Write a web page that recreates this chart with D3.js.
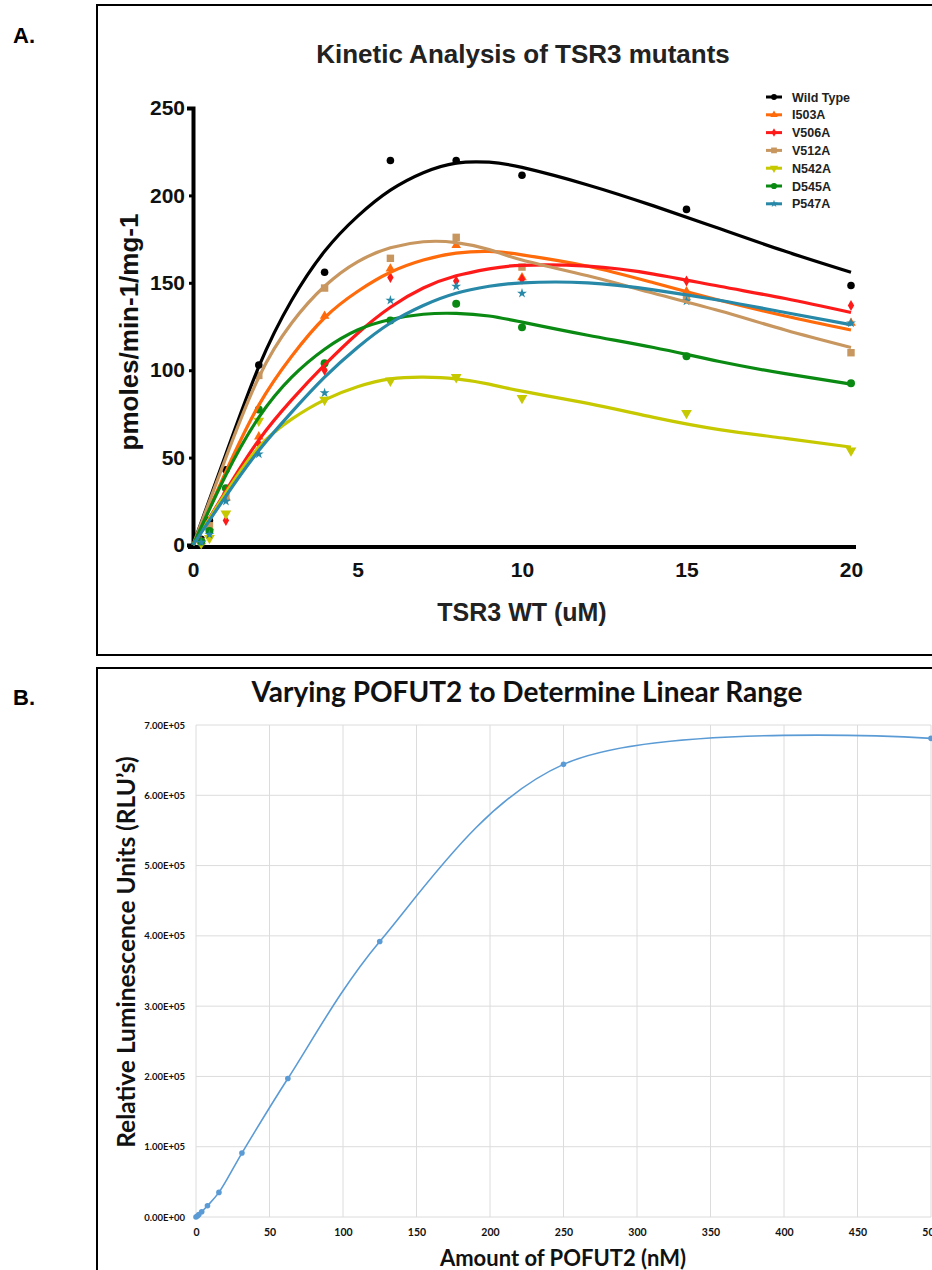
<!DOCTYPE html>
<html>
<head>
<meta charset="utf-8">
<script src="https://cdn.jsdelivr.net/npm/d3@7"></script>
<style>
  html, body { margin: 0; padding: 0; background: #fff; }
  svg { display: block; }
</style>
</head>
<body>
<svg id="chart" width="932" height="1270"></svg>
<script>
// ---------------- Panel A data ----------------
const kinX = [0.25, 0.5, 1, 2, 4, 6, 8, 10, 15, 20];
const seriesNames = ["Wild Type", "I503A", "V506A", "V512A", "N542A", "D545A", "P547A"];
const wildType = [3.3, 14, 43, 103, 156, 220, 220, 211.5, 192, 148.5];
const i503a    = [2, 10, 27, 62, 131, 158, 171.5, 153, 145, 127];
const v506a    = [1.5, 5, 14, 58, 100, 153, 151, 152, 151, 137];
const v512a    = [2, 11, 28, 97, 147, 164, 176, 159, 142, 110];
const n542a    = [1, 4, 18, 71, 83, 94, 96, 84, 75.5, 54];
const d545a    = [2, 8, 32.5, 77.5, 104, 128.5, 138, 124.5, 108, 92.5];
const p547a    = [1.5, 6, 25, 52, 87, 140, 148, 144, 139.5, 127];

// fitted curves
const fitX        = [0, 1, 2, 3, 4, 5, 6, 7, 8, 9, 10, 12, 14, 16, 18, 20];
const fitWildType = [0, 52, 102, 140, 168, 188, 203, 213, 218.5, 219, 216, 206, 194, 181, 168, 156];
const fitI503A    = [0, 42, 80, 108, 130, 145, 156, 163, 167, 168, 166, 159.5, 150, 140, 131, 123];
const fitV506A    = [0, 31, 60, 83, 103, 121, 136, 147, 154, 158, 160, 159.5, 155, 148, 141, 133];
const fitV512A    = [0, 50, 96, 127, 148, 162, 170, 173.5, 173, 169, 163, 154, 144, 134, 123, 113];
const fitN542A    = [0, 30, 56, 72, 83, 90.5, 95, 96, 95, 92, 88, 81, 73, 66, 61, 56];
const fitD545A    = [0, 40, 73, 96, 112, 123, 129, 132, 132.5, 131, 127.5, 120, 113, 105, 98, 92];
const fitP547A    = [0, 28, 54, 76, 96, 113, 127, 137, 144, 148, 150, 150, 146, 140, 133, 126];

const kinTicksX = [0, 5, 10, 15, 20];
const kinTicksY = [0, 50, 100, 150, 200, 250];

// ---------------- Panel B data ----------------
const pofX = [0, 0.98, 1.95, 3.9, 7.8, 15.6, 31.25, 62.5, 125, 250, 500];
const pofY = [0, 1500, 3500, 7500, 16000, 35000, 91000, 197000, 392000, 644000, 681000];
const pofTicksX = [0, 50, 100, 150, 200, 250, 300, 350, 400, 450, 500];
const pofTicksY = [0, 100000, 200000, 300000, 400000, 500000, 600000, 700000];

// ---------------- styles ----------------
const colors = ["#000000", "#ff6a0a", "#ff1a1a", "#c8965f", "#c6c800", "#0a8a12", "#2788a8"];
const symbols = [d3.symbolCircle, d3.symbolTriangle, d3.symbolDiamond, d3.symbolSquare, d3.symbolTriangle, d3.symbolCircle, d3.symbolStar];
const symRot = [0, 0, 0, 0, 180, 0, 0];
const symSize = [45, 40, 35, 55, 50, 50, 30];
const pointSets = [wildType, i503a, v506a, v512a, n542a, d545a, p547a];
const fitSets = [fitWildType, fitI503A, fitV506A, fitV512A, fitN542A, fitD545A, fitP547A];

const svg = d3.select("#chart");
svg.append("rect").attr("width", 932).attr("height", 1270).attr("fill", "#fff");

const arial = "'Liberation Sans', Arial, sans-serif";
const cal = "Lato, 'Open Sans', sans-serif";

// ===== Panel A =====
svg.append("text").attr("x", 13).attr("y", 43).text("A.")
  .attr("font-family", arial).attr("font-weight", "bold").attr("font-size", 22);
svg.append("rect").attr("x", 97).attr("y", 5).attr("width", 840).attr("height", 650)
  .attr("fill", "none").attr("stroke", "#000").attr("stroke-width", 2);

const xA = d3.scaleLinear().domain([0, 20]).range([193, 851]);
const yA = d3.scaleLinear().domain([0, 250]).range([545, 108]);

svg.append("text").attr("x", 523).attr("y", 63).attr("text-anchor", "middle")
  .attr("font-family", arial).attr("font-weight", "bold").attr("font-size", 26)
  .attr("fill", "#222").text("Kinetic Analysis of TSR3 mutants");

const gyA = svg.append("g").attr("transform", "translate(193,0)")
  .call(d3.axisLeft(yA).tickValues(kinTicksY).tickSizeOuter(0).tickSize(4).tickPadding(4));
gyA.select(".domain").attr("stroke", "#000").attr("stroke-width", 4).attr("stroke-linecap", "square");
gyA.selectAll(".tick line").attr("stroke", "#000").attr("stroke-width", 3);
gyA.selectAll("text").attr("font-family", arial).attr("font-weight", "bold").attr("font-size", 21).attr("fill", "#111");

const gxA = svg.append("g").attr("transform", "translate(0,547)")
  .call(d3.axisBottom(xA).tickValues(kinTicksX).tickSizeOuter(0).tickSize(0).tickPadding(15));
gxA.select(".domain").attr("stroke", "#000").attr("stroke-width", 4).attr("stroke-linecap", "square")
  .attr("d", `M${xA(0) - 3},0H${xA(20) + 3}`);
gxA.selectAll("text").attr("font-family", arial).attr("font-weight", "bold").attr("font-size", 21).attr("fill", "#111");

svg.append("text").attr("x", 522).attr("y", 621).attr("text-anchor", "middle")
  .attr("font-family", arial).attr("font-weight", "bold").attr("font-size", 25)
  .attr("fill", "#222").text("TSR3 WT (uM)");
svg.append("text").attr("transform", "translate(138,332) rotate(-90)").attr("text-anchor", "middle")
  .attr("font-family", arial).attr("font-weight", "bold").attr("font-size", 26)
  .attr("fill", "#111").text("pmoles/min-1/mg-1");

const lineA = d3.line().curve(d3.curveNatural)
  .x(d => xA(d[0])).y(d => yA(d[1]));

const plotA = svg.append("g");
// points first
seriesNames.forEach((name, i) => {
  const sym = d3.symbol().type(symbols[i]).size(symSize[i]);
  plotA.append("g").selectAll("path").data(kinX.map((x, j) => [x, pointSets[i][j]]))
    .join("path")
    .attr("d", sym)
    .attr("transform", d => `translate(${xA(d[0])},${yA(d[1])}) rotate(${symRot[i]})`)
    .attr("fill", colors[i]);
});
// fitted lines
seriesNames.forEach((name, i) => {
  plotA.append("path").datum(fitX.map((x, j) => [x, fitSets[i][j]]))
    .attr("d", lineA).attr("fill", "none").attr("stroke", colors[i])
    .attr("stroke-width", 3.2).attr("stroke-linejoin", "round");
});

// legend
const legA = svg.append("g");
seriesNames.forEach((name, i) => {
  const yy = 97 + i * 17.8;
  legA.append("line").attr("x1", 766).attr("x2", 782).attr("y1", yy).attr("y2", yy)
    .attr("stroke", colors[i]).attr("stroke-width", 3);
  legA.append("path").attr("d", d3.symbol().type(symbols[i]).size(symSize[i] * 0.6))
    .attr("transform", `translate(774,${yy}) rotate(${symRot[i]})`).attr("fill", colors[i]);
  legA.append("text").attr("x", 792).attr("y", yy + 4.5).text(name)
    .attr("font-family", arial).attr("font-weight", "bold").attr("font-size", 12.5).attr("fill", "#222");
});

// ===== Panel B =====
svg.append("text").attr("x", 13).attr("y", 705).text("B.")
  .attr("font-family", arial).attr("font-weight", "bold").attr("font-size", 22);
svg.append("rect").attr("x", 97).attr("y", 668).attr("width", 840).attr("height", 610)
  .attr("fill", "none").attr("stroke", "#000").attr("stroke-width", 2);

const xB = d3.scaleLinear().domain([0, 500]).range([196, 931]);
const yB = d3.scaleLinear().domain([0, 700000]).range([1217, 725]);

const grid = svg.append("g");
grid.selectAll("line.v").data(pofTicksX).join("line").attr("class", "v")
  .attr("x1", d => xB(d)).attr("x2", d => xB(d)).attr("y1", yB(700000)).attr("y2", yB(0))
  .attr("stroke", "#dcdcdc").attr("stroke-width", 1);
grid.selectAll("line.h").data(pofTicksY).join("line").attr("class", "h")
  .attr("x1", xB(0)).attr("x2", xB(500)).attr("y1", d => yB(d)).attr("y2", d => yB(d))
  .attr("stroke", "#dcdcdc").attr("stroke-width", 1);

const gyB = svg.append("g").attr("transform", `translate(${xB(0)},0)`)
  .call(d3.axisLeft(yB).tickValues(pofTicksY).tickSize(0).tickPadding(11)
    .tickFormat(d => d === 0 ? "0.00E+00" : (d / 100000).toFixed(2) + "E+05"));
gyB.select(".domain").remove();
gyB.selectAll("text").attr("font-family", cal).attr("font-weight", "bold").attr("font-size", 9.5).attr("fill", "#111");

const gxB = svg.append("g").attr("transform", `translate(0,${yB(0)})`)
  .call(d3.axisBottom(xB).tickValues(pofTicksX).tickSize(0).tickPadding(12));
gxB.select(".domain").remove();
gxB.selectAll("text").attr("font-family", cal).attr("font-weight", "bold").attr("font-size", 10.5).attr("fill", "#111");

svg.append("text").attr("x", 527).attr("y", 702).attr("text-anchor", "middle")
  .attr("font-family", cal).attr("font-weight", "bold").attr("font-size", 28)
  .attr("fill", "#111").text("Varying POFUT2 to Determine Linear Range");
svg.append("text").attr("x", 563).attr("y", 1266).attr("text-anchor", "middle")
  .attr("font-family", cal).attr("font-weight", "bold").attr("font-size", 22)
  .attr("fill", "#111").text("Amount of POFUT2 (nM)");
svg.append("text").attr("transform", "translate(135,952) rotate(-90)").attr("text-anchor", "middle")
  .attr("font-family", cal).attr("font-weight", "bold").attr("font-size", 24.5)
  .attr("fill", "#111").text("Relative Luminescence Units (RLU\u2019s)");

const lineB = d3.line().curve(d3.curveCatmullRom.alpha(0.5))
  .x(d => xB(d[0])).y(d => yB(d[1]));
const dataB = pofX.map((x, i) => [x, pofY[i]]);
svg.append("path").datum(dataB).attr("d", lineB).attr("fill", "none")
  .attr("stroke", "#5b9bd5").attr("stroke-width", 1.6);
svg.append("g").selectAll("circle").data(dataB).join("circle")
  .attr("cx", d => xB(d[0])).attr("cy", d => yB(d[1])).attr("r", 2.8).attr("fill", "#5b9bd5");
</script>
</body>
</html>
